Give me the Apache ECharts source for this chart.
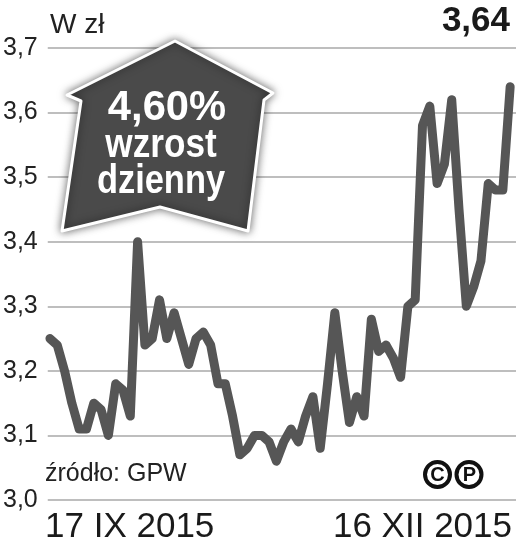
<!DOCTYPE html>
<html>
<head>
<meta charset="utf-8">
<script src="https://cdn.jsdelivr.net/npm/echarts@6/dist/echarts.min.js"></script>
<style>
html,body{margin:0;padding:0;background:#fff;}
#c{width:516px;height:550px;}
</style>
</head>
<body>
<div id="c"></div>
<script>
// Data
var startLabel = '17 IX 2015';
var endLabel = '16 XII 2015';
var prices = [3.25,3.24,3.20,3.15,3.11,3.11,3.15,3.14,3.10,3.18,
              3.17,3.13,3.40,3.24,3.25,3.31,3.25,3.29,3.25,3.21,
              3.25,3.26,3.24,3.18,3.18,3.13,3.07,3.08,3.10,3.10,
              3.09,3.06,3.09,3.11,3.09,3.13,3.16,3.08,3.18,3.29,
              3.20,3.12,3.16,3.13,3.28,3.23,3.24,3.22,3.19,3.30,
              3.31,3.58,3.61,3.49,3.52,3.62,3.45,3.30,3.33,3.37,
              3.49,3.48,3.48,3.64];
var yTicks = [3.0,3.1,3.2,3.3,3.4,3.5,3.6,3.7];
var unitLabel = 'W zł';
var lastValue = '3,64';
var badgeLines = ['4,60%','wzrost','dzienny'];
var sourceLabel = 'źródło: GPW';

var seriesData = prices.map(function(v,i){return [i,v];});
var chart = echarts.init(document.getElementById('c'));
var FONT = '"Liberation Sans", Arial, sans-serif';

chart.setOption({
  animation:false,
  backgroundColor:'#fff',
  grid:{left:45,right:0,top:48,bottom:50},
  xAxis:{type:'value',min:-0.3,max:prices.length-1+0.8,show:false},
  yAxis:{type:'value',min:yTicks[0],max:yTicks[yTicks.length-1],interval:0.1,
    axisLine:{show:false},axisTick:{show:false},
    splitLine:{lineStyle:{color:'#a8a8a8',width:1.5}},
    axisLabel:{margin:10,fontFamily:FONT,fontSize:25,color:'#222',
      formatter:function(v){return v.toFixed(1).replace('.',',');}}
  },
  series:[{type:'line',data:seriesData,symbol:'none',
    lineStyle:{color:'#565656',width:9,join:'round',cap:'round'},z:3}],
  graphic:[
    {type:'text',left:50,top:11,style:{text:unitLabel,fontFamily:FONT,fontSize:28,fill:'#222'}},
    {type:'text',right:6,top:4,style:{text:lastValue,fontFamily:FONT,fontSize:35,fontWeight:'bold',fill:'#1a1a1a'}},
    {type:'polygon',z:10,
      shape:{points:[[175,41],[273,93],[264,100],[248,231],[160,207],[62,231],[81,101],[67,95]]},
      style:{fill:'#4a4a4a',stroke:'#fff',lineWidth:3,lineJoin:'round',shadowBlur:8,shadowColor:'rgba(0,0,0,0.55)'}},
    {type:'text',z:11,x:167,y:108,scaleX:0.97,style:{text:badgeLines[0],fontFamily:FONT,fontSize:43,fontWeight:'bold',fill:'#fff',align:'center',verticalAlign:'middle'}},
    {type:'text',z:11,x:161,y:146,scaleX:0.88,style:{text:badgeLines[1],fontFamily:FONT,fontSize:40,fontWeight:'bold',fill:'#fff',align:'center',verticalAlign:'middle'}},
    {type:'text',z:11,x:161,y:182,scaleX:0.86,style:{text:badgeLines[2],fontFamily:FONT,fontSize:40,fontWeight:'bold',fill:'#fff',align:'center',verticalAlign:'middle'}},
    {type:'text',left:45,top:462,style:{text:sourceLabel,fontFamily:FONT,fontSize:25,fill:'#222'}},
    {type:'circle',shape:{cx:437.5,cy:474.5,r:12.5},style:{fill:'#fff',stroke:'#111',lineWidth:4}},
    {type:'circle',shape:{cx:469,cy:474.5,r:12.5},style:{fill:'#fff',stroke:'#111',lineWidth:4}},
    {type:'text',x:437.5,y:475.5,style:{text:'C',fontFamily:FONT,fontSize:20,fontWeight:'bold',fill:'#111',align:'center',verticalAlign:'middle'}},
    {type:'text',x:469.5,y:475.5,style:{text:'P',fontFamily:FONT,fontSize:20,fontWeight:'bold',fill:'#111',align:'center',verticalAlign:'middle'}},
    {type:'text',left:45,top:510,style:{text:startLabel,fontFamily:FONT,fontSize:35,fill:'#1a1a1a'}},
    {type:'text',right:4,top:510,style:{text:endLabel,fontFamily:FONT,fontSize:35,fill:'#1a1a1a'}}
  ]
});
</script>
</body>
</html>
